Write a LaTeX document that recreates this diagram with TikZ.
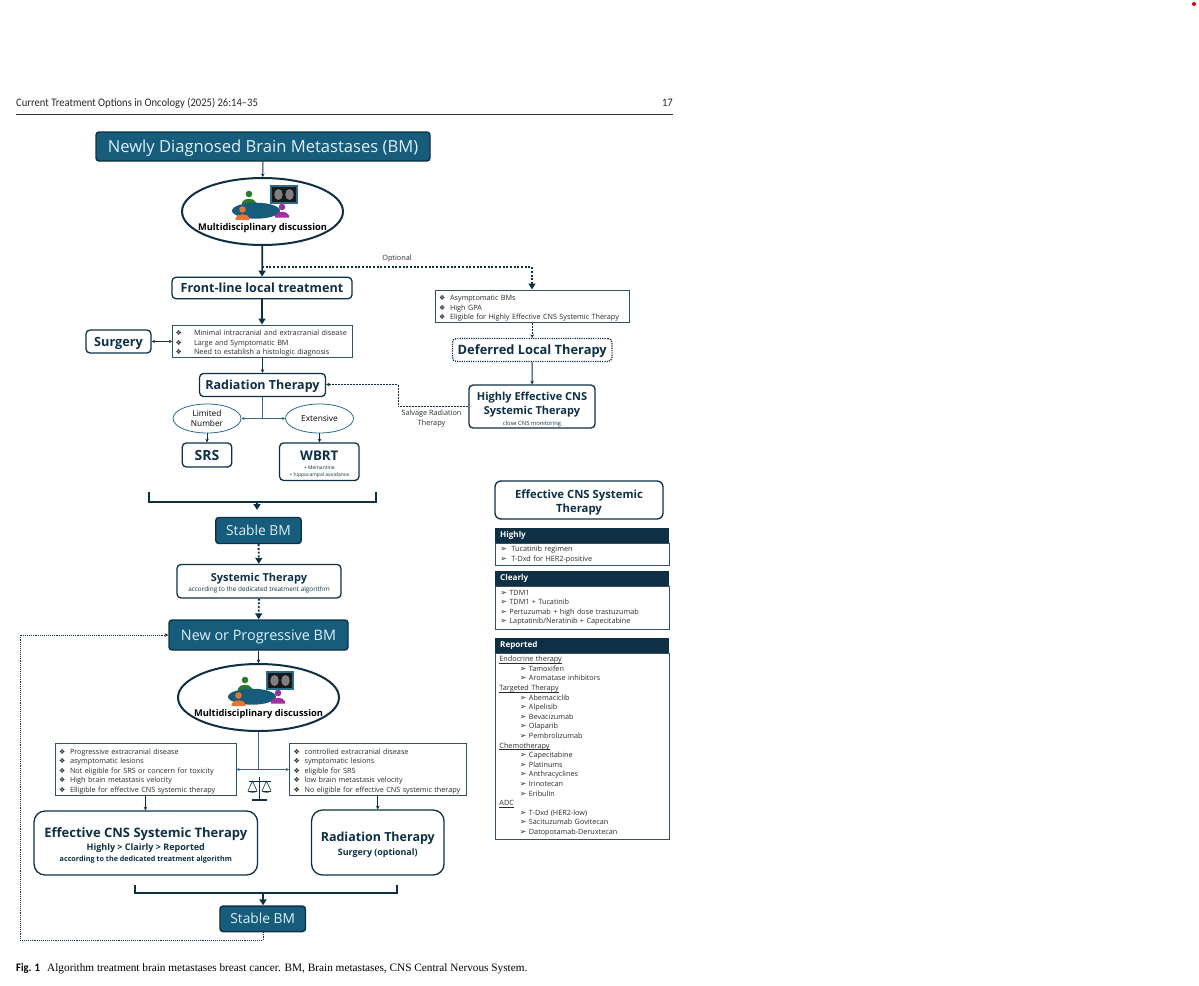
\documentclass[tikz,border=0pt]{standalone}
\usepackage{fontspec}
\setmainfont{Open Sans}
\newfontfamily\symfont{DejaVu Sans}
\newfontfamily\pagefont[FakeStretch=0.92]{Carlito}
\newfontfamily\capfont{Liberation Serif}
\usetikzlibrary{arrows.meta,shapes.geometric}
\definecolor{inkdark}{HTML}{0E2F44}
\definecolor{stageblue}{HTML}{185C7C}
\definecolor{stagetext}{HTML}{DDF1F9}
\definecolor{tealline}{HTML}{2B6C88}
\definecolor{listline}{HTML}{33505F}
\definecolor{listtext}{HTML}{2A2A2A}
\definecolor{seatgreen}{HTML}{2A7A2E}
\definecolor{seatorange}{HTML}{E8742F}
\definecolor{seatpurple}{HTML}{A32F9C}
\newcommand{\dmd}[1]{\makebox[#1pt][l]{\symfont\fontsize{7}{8}\selectfont ❖}}
\newcommand{\arw}[1]{\makebox[#1pt][l]{\symfont\fontsize{8}{8}\selectfont ➢}}
\newcommand{\sub}{\hspace*{20.5pt}\arw{9}}
\newcommand{\undl}[1]{\underline{\smash{#1}}}
\tikzset{%
  stage/.style    = {draw=inkdark, fill=stageblue, text=stagetext, rounded corners=3pt,%
                     line width=1.4pt, inner sep=0pt, align=center},%
  whitebox/.style = {draw=inkdark, fill=white, text=inkdark, rounded corners=4pt,%
                     line width=1.3pt, inner sep=0pt, align=center, font=\bfseries},%
  capline/.style  = {text height=#1, text depth=0pt},%
  round/.style    = {ellipse, draw=inkdark, fill=white, line width=2pt, inner sep=0pt,%
                     minimum width=161pt, minimum height=67pt},%
  oval/.style     = {ellipse, draw=tealline, line width=.8pt, inner sep=0pt, align=center,%
                     minimum width=68pt, minimum height=29pt, font=\fontsize{8.3}{10.5}\selectfont},%
  listbox/.style 2 args = {draw=listline, fill=white, line width=.9pt, inner xsep=4pt, inner ysep=0pt,%
                     text=listtext, align=left, text width=#1, minimum height=#2,%
                     font=\fontsize{7.25}{9.6}\selectfont},%
  lifted/.style   = {execute at begin node=\rule{0pt}{#1}},%
  headbar/.style  = {fill=inkdark, text=white, inner xsep=5pt, inner ysep=0pt, minimum height=15pt,%
                     minimum width=174pt, text width=164pt, align=left,%
                     font=\bfseries\fontsize{8.1}{9}\selectfont},%
  label/.style    = {inner sep=0pt, align=center, text=listtext, font=\fontsize{7.3}{9.4}\selectfont},%
  link/.style     = {draw=inkdark, line width=.9pt, -{Stealth[length=3.6pt,width=3.6pt]}},%
  twolink/.style  = {draw=inkdark, line width=.7pt, {Stealth[length=3.2pt,width=3.2pt]}-{Stealth[length=3.2pt,width=3.2pt]}},%
  heavy/.style    = {draw=inkdark, line width=1.7pt, -{Triangle[length=6pt,width=7pt]}},%
  spots/.style    = {draw=inkdark, line width=1.9pt, dash pattern=on 2pt off 1.7pt, -{Triangle[length=6pt,width=7pt]}},%
  dotlink/.style  = {draw=inkdark, line width=.8pt, dash pattern=on 1.1pt off 1pt, -{Stealth[length=3.6pt,width=3.6pt]}},%
  dashlink/.style = {draw=inkdark, line width=.6pt, dash pattern=on 2pt off 1pt, -{Stealth[length=3.6pt,width=3.6pt]}},%
  teal/.style     = {draw=tealline, line width=.9pt},%
  bracket/.style  = {draw=inkdark, line width=2pt, line cap=butt},%
  person/.pic     = {\fill (0,0) circle (3.3pt);
                     \fill (-7,10.5) -- (-7,8.5) .. controls (-6,3.5) and (6,3.5) .. (7,8.5) -- (7,10.5) -- cycle;},%
  meeting/.pic    = {\begin{scope}[fill=seatgreen]\pic at (-13.5,-17.5) {person};\end{scope}
                     \fill[stageblue] (-6.5,-.8) ellipse (24pt and 8pt);
                     \begin{scope}[fill=seatorange]\pic at (-20,-2) {person};\end{scope}
                     \begin{scope}[fill=seatpurple]\pic at (19.5,-4.5) {person};\end{scope}
                     \draw[fill=black!90, draw=tealline, line width=1.4pt] (8.5,-25.5) rectangle (34.5,-8.5);
                     \fill[black!50] (16,-17) ellipse (4.2pt and 5.5pt);
                     \fill[black!50] (27,-17) ellipse (4.2pt and 5.5pt);},%
  balance/.pic    = {\draw[inkdark, line width=1pt] (-11,-3) -- (11,-3);
                     \draw[inkdark, line width=1.3pt] (0,-7) -- (0,15);
                     \fill[inkdark] (-7.5,15) rectangle (7.5,17);
                     \foreach \panx in {-7,7}{
                       \draw[inkdark, line width=.6pt] (\panx,-3) -- (\panx-4.5,7) (\panx,-3) -- (\panx+4.5,7);
                       \fill[inkdark] (\panx-5,7) -- (\panx+5,7) arc (0:-180:5pt and 1.6pt);}}%
}
\begin{document}
\begin{tikzpicture}[x=1pt, y=-1pt]
\useasboundingbox (0,0) rectangle (1199,985);
\fill[red!85!black] (1194,4) circle (2pt);

% page furniture
\node[anchor=west, inner sep=0pt, text=black!85, font=\pagefont\fontsize{11.5}{14}\selectfont] (runhead) at (16,103) {Current Treatment Options in Oncology (2025) 26:14–35};
\node[anchor=east, inner sep=0pt, text=black!85, font=\pagefont\fontsize{11.5}{14}\selectfont] (pageno) at (673,103) {17};
\draw[black!80, line width=1.2pt] (16,114.5) -- (673,114.5);
\node[anchor=west, inner sep=0pt, font=\pagefont\bfseries\fontsize{11.5}{12}\selectfont] (figtag) at (16,968.5) {Fig. 1};
\node[anchor=west, inner sep=0pt, font=\capfont\fontsize{11.28}{12}\selectfont] (figcap) at (47,968.5) {Algorithm treatment brain metastases breast cancer. BM, Brain metastases, CNS Central Nervous System.};

% first line of treatment
\node[stage, capline=11.9pt, minimum width=334pt, minimum height=29pt, font=\fontsize{16.6}{22}\selectfont] (newbm) at (263,146.5) {Newly Diagnosed Brain Metastases (BM)};
\node[round] (mdt) at (262.5,211.5) {};
\pic at (mdt.center) {meeting};
\node[inner sep=0pt, font=\bfseries\fontsize{9.3}{11}\selectfont] (mdtlabel) at (262.5,228) {Multidisciplinary discussion};
\node[whitebox, capline=9pt, minimum width=180pt, minimum height=21.5pt, font=\bfseries\fontsize{12.6}{15}\selectfont] (frontline) at (262,288) {Front-line local treatment};
\node[listbox={174pt}{32.5pt}, inner xsep=3pt, lifted=9.5pt] (indications) at (262.5,341.2) {\dmd{18.5}Minimal intracranial and extracranial disease\\\dmd{18.5}Large and Symptomatic BM\\\dmd{18.5}Need to establish a histologic diagnosis};
\node[whitebox, capline=9.1pt, minimum width=65pt, minimum height=23pt, font=\bfseries\fontsize{12.7}{15}\selectfont] (surgery) at (118.5,341.5) {Surgery};
\node[whitebox, capline=8.9pt, minimum width=126pt, minimum height=23pt, font=\bfseries\fontsize{12.5}{15}\selectfont] (rt) at (262.5,385) {Radiation Therapy};
\node[oval] (limited) at (207,418.5) {Limited\\Number};
\node[oval] (extensive) at (319.5,418.5) {Extensive};
\node[whitebox, capline=10pt, minimum width=49.5pt, minimum height=24pt, font=\bfseries\fontsize{14}{16}\selectfont] (srs) at (207,455) {SRS};
\node[whitebox, minimum width=79.5pt, minimum height=37.5pt, font=\bfseries\fontsize{13.3}{16}\selectfont] (wbrt) at (319.3,461.7) {\rule{0pt}{15pt}WBRT\\[-7.5pt]{\mdseries\fontsize{5}{7}\selectfont + Memantine}\\[-8.5pt]{\mdseries\fontsize{5}{7}\selectfont + hippocampal avoidance}};

% deferred branch
\coordinate (optstart) at (262,267);
\coordinate (optcorner) at (532,267);
\node[label] (optlabel) at (397,258.5) {Optional};
\node[listbox={186.5pt}{32.5pt}, lifted=9.5pt] (asympt) at (532.3,306.2) {\dmd{11}Asymptomatic BMs\\\dmd{11}High GPA\\\dmd{11}Eligible for Highly Effective CNS Systemic Therapy};
\node[whitebox, capline=9.2pt, dash pattern=on 1.2pt off 1.1pt, minimum width=159.5pt, minimum height=23pt, font=\bfseries\fontsize{12.85}{15}\selectfont] (deferred) at (532.2,350) {Deferred Local Therapy};
\node[whitebox, minimum width=126pt, minimum height=43pt, font=\bfseries\fontsize{11}{14.2}\selectfont] (cnshigh) at (532,406.5) {\rule{0pt}{14pt}Highly Effective CNS\\Systemic Therapy\\[-3pt]{\mdseries\fontsize{5.8}{7}\selectfont close CNS monitoring}};
\coordinate (salvfar) at (398,406.5);
\coordinate (salvnear) at (398,384.5);
\node[label] (salvlabel) at (431.5,418.5) {Salvage Radiation\\Therapy};

% connectors, first part
\draw[link] (newbm) -- (mdt);
\draw[heavy] (mdt) -- (frontline);
\draw[spots] (optstart) -- (optcorner) -- (asympt.north -| optcorner);
\draw[heavy] (frontline.south) -- (indications.north -| frontline.south);
\draw[twolink] (surgery) -- (indications);
\draw[link] (indications.south -| rt.north) -- (rt);
\draw[dashlink] (asympt.south -| deferred.north) -- (deferred);
\draw[link, line width=1.1pt] (deferred) -- (cnshigh);
\draw[dashlink] (cnshigh.west |- salvfar) -- (salvfar) -- (salvnear) -- (rt.east |- salvnear);
\coordinate (rtsplit) at (262.5,419);
\draw[teal] (rt) -- (rtsplit);
\draw[twolink, draw=tealline] (limited) -- (extensive);
\draw[link, line width=.7pt] (limited) -- (srs);
\draw[link, line width=.7pt] (extensive) -- (wbrt.north -| extensive);

% stable and systemic
\coordinate (brleft) at (148.5,492);
\coordinate (brright) at (376,492);
\coordinate (brmid) at (257,502);
\coordinate (brtip) at (257,510);
\draw[bracket] (brleft) -- (148.5,502) -- (376,502) -- (brright);
\draw[heavy] (brmid) -- (brtip);
\node[stage, capline=9.9pt, minimum width=85.5pt, minimum height=26pt, font=\fontsize{13.8}{18}\selectfont] (stableone) at (258.5,530.5) {Stable BM};
\node[whitebox, minimum width=164pt, minimum height=33.5pt, font=\bfseries\fontsize{11}{13}\selectfont] (systemic) at (259,581.2) {\rule{0pt}{12.5pt}Systemic Therapy\\[-3pt]{\mdseries\fontsize{6.4}{8}\selectfont according to the dedicated treatment algorithm}};
\node[stage, capline=10.3pt, minimum width=179pt, minimum height=30pt, font=\fontsize{14.4}{20}\selectfont] (progbm) at (258.5,635) {New or Progressive BM};
\draw[spots] (stableone) -- (systemic);
\draw[spots] (systemic) -- (progbm);

% second decision
\node[round] (mdttwo) at (258.5,697.5) {};
\pic at (mdttwo.center) {meeting};
\node[inner sep=0pt, font=\bfseries\fontsize{9.3}{11}\selectfont] (mdttwolabel) at (258.5,714) {Multidisciplinary discussion};
\draw[link] (progbm) -- (mdttwo);
\node[listbox={173pt}{52pt}, lifted=9.5pt] (leftcrit) at (145.5,769.5) {\dmd{11}Progressive extracranial disease\\\dmd{11}asymptomatic lesions\\\dmd{11}Not eligible for SRS or concern for toxicity\\\dmd{11}High brain metastasis velocity\\\dmd{11}Elligible for effective CNS systemic therapy};
\node[listbox={168.5pt}{52pt}, lifted=9.5pt] (rightcrit) at (377.8,769.5) {\dmd{11}controlled extracranial disease\\\dmd{11}symptomatic lesions\\\dmd{11}eligible for SRS\\\dmd{11}low brain metastasis velocity\\\dmd{11}No eligible for effective CNS systemic therapy};
\coordinate (critsplit) at (258.5,769.5);
\draw[teal] (mdttwo) -- (critsplit);
\draw[twolink, draw=tealline] (leftcrit) -- (rightcrit);
\pic at (259.5,784) {balance};
\node[whitebox, rounded corners=11pt, minimum width=223.5pt, minimum height=64pt, font=\bfseries\fontsize{13}{16}\selectfont] (cnseff) at (145.8,843) {\rule{0pt}{15pt}Effective CNS Systemic Therapy\\[-2.5pt]{\fontsize{9}{10}\selectfont Highly > Clairly > Reported}\\[-5pt]{\fontsize{7.2}{8}\selectfont according to the dedicated treatment algorithm}};
\node[whitebox, rounded corners=11pt, minimum width=132.5pt, minimum height=65pt, font=\bfseries\fontsize{12.5}{16}\selectfont] (rttwo) at (377.8,842.5) {\rule{0pt}{14.5pt}Radiation Therapy\\[-2.5pt]{\fontsize{8.9}{10}\selectfont Surgery (optional)}};
\draw[link, line width=1.1pt] (leftcrit) -- (leftcrit |- cnseff.north);
\draw[link, line width=1.1pt] (rightcrit) -- (rttwo);
\coordinate (brtwoleft) at (135,885);
\coordinate (brtworight) at (397,885);
\coordinate (brtwomid) at (263,892.5);
\draw[bracket] (brtwoleft) -- (135,892.5) -- (397,892.5) -- (brtworight);
\node[stage, capline=9.9pt, minimum width=85.5pt, minimum height=25.5pt, font=\fontsize{13.8}{18}\selectfont] (stabletwo) at (262.7,918.8) {Stable BM};
\draw[heavy] (brtwomid) -- (stabletwo.north -| brtwomid);
\coordinate (loopa) at (263,940);
\coordinate (loopb) at (20,940);
\coordinate (loopc) at (20,635);
\draw[dotlink] (stabletwo.south -| loopa) -- (loopa) -- (loopb) -- (loopc) -- (progbm.west);

% agents panel
\node[whitebox, rounded corners=6pt, minimum width=168pt, minimum height=38pt, font=\bfseries\fontsize{11.3}{14.4}\selectfont] (paneltitle) at (579,500) {\rule{0pt}{13.5pt}Effective CNS Systemic\\Therapy};
\node[listbox={166pt}{22pt}, anchor=north west] (highlylist) at (495,543) {\hspace*{1pt}\arw{11}Tucatinib regimen\\\hspace*{1pt}\arw{11}T-Dxd for HER2-positive};
\node[headbar, anchor=north west] (highlyhead) at (495,528) {Highly};
\node[listbox={166pt}{42.5pt}, anchor=north west] (clearlylist) at (495,586) {\hspace*{1pt}\arw{9}TDM1\\\hspace*{1pt}\arw{9}TDM1 + Tucatinib\\\hspace*{1pt}\arw{9}Pertuzumab + high dose trastuzumab\\\hspace*{1pt}\arw{9}Laptatinib/Neratinib + Capecitabine};
\node[headbar, anchor=north west] (clearlyhead) at (495,571) {Clearly};
\node[listbox={166pt}{186pt}, lifted=5pt, anchor=north west] (reportedlist) at (495,653) {\undl{Endocrine therapy}\\\sub Tamoxifen\\\sub Aromatase inhibitors\\\undl{Targeted Therapy}\\\sub Abemaciclib\\\sub Alpelisib\\\sub Bevacizumab\\\sub Olaparib\\\sub Pembrolizumab\\\undl{Chemotherapy}\\\sub Capecitabine\\\sub Platinums\\\sub Anthracyclines\\\sub Irinotecan\\\sub Eribulin\\\undl{ADC}\\\sub T-Dxd (HER2-low)\\\sub Sacituzumab Govitecan\\\sub Datopotamab-Deruxtecan};
\node[headbar, anchor=north west] (reportedhead) at (495,637.5) {Reported};
\end{tikzpicture}
\end{document}
